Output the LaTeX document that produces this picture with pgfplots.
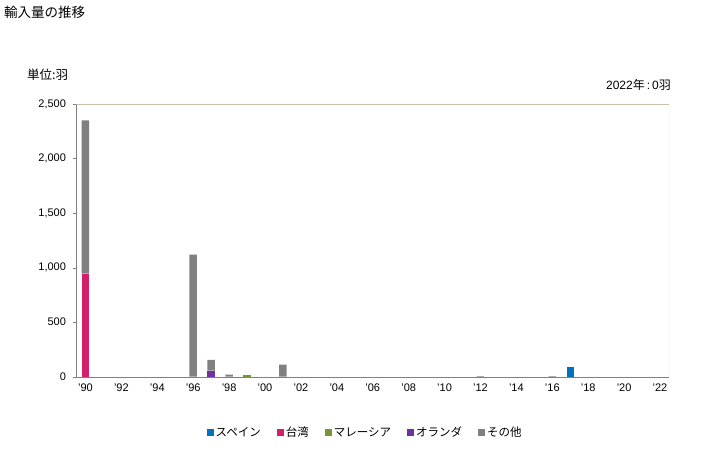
\documentclass[border=0pt]{standalone}
\usepackage{fontspec}
\setmainfont{Liberation Sans}
\newfontfamily\jp{Noto Sans CJK JP}
\usepackage{pgfplots}
\usepackage{pgfplotstable}
\pgfplotsset{compat=1.18}
\definecolor{cSpain}{HTML}{0070C0}
\definecolor{cTaiwan}{HTML}{D4206A}
\definecolor{cMalay}{HTML}{77933C}
\definecolor{cNeth}{HTML}{7030A0}
\definecolor{cOther}{HTML}{808080}
\definecolor{cFrame}{HTML}{C8C2AA}
\pgfplotstableread{
year spain taiwan malay neth other
1990 0 945 0 0 1405
1991 0 0 0 0 0
1992 0 0 0 0 0
1993 0 0 0 0 0
1994 0 0 0 0 0
1995 0 0 0 0 0
1996 0 0 0 0 1120
1997 0 0 0 55 100
1998 0 0 0 0 20
1999 0 0 15 0 0
2000 0 0 0 0 0
2001 0 0 0 0 110
2002 0 0 0 0 0
2003 0 0 0 0 0
2004 0 0 0 0 0
2005 0 0 0 0 0
2006 0 0 0 0 0
2007 0 0 0 0 0
2008 0 0 0 0 0
2009 0 0 0 0 0
2010 0 0 0 0 0
2011 0 0 0 0 0
2012 0 0 0 0 5
2013 0 0 0 0 0
2014 0 0 0 0 0
2015 0 0 0 0 0
2016 0 0 0 0 5
2017 90 0 0 0 0
2018 0 0 0 0 0
2019 0 0 0 0 0
2020 0 0 0 0 0
2021 0 0 0 0 0
2022 0 0 0 0 0
}\datatable
\begin{document}
\begin{tikzpicture}[x=1pt,y=1pt]
\path[use as bounding box] (0,0) rectangle (728,450);
\node[anchor=west,inner sep=0] at (4,438) {\jp\fontsize{13.5}{15}\selectfont 輸入量の推移};
\node[anchor=west,inner sep=0] at (27,375) {\jp\fontsize{12.5}{14}\selectfont 単位:羽};
\node[anchor=east,inner sep=0] at (671,365) {\fontsize{12}{14}\selectfont 2022{\jp 年}\,:\,0{\jp 羽}};
\begin{axis}[
  at={(76.5pt,73.3pt)}, anchor=south west,
  scale only axis, width=592.5pt, height=272.7pt,
  ybar stacked, bar width=7.5pt,
  xmin=1989.5, xmax=2022.5, ymin=0, ymax=2500,
  axis lines=left, axis line style={-, draw=cOther},
  xtick={1990,1992,...,2022},
  xticklabels={'90,'92,'94,'96,'98,'00,'02,'04,'06,'08,'10,'12,'14,'16,'18,'20,'22},
  ytick={0,500,...,2500},
  /pgf/number format/assume math mode=true,
  /pgf/number format/1000 sep={,},
  scaled y ticks=false,
  tick label style={font=\fontsize{11}{12}\selectfont},
  major x tick style={draw=none},
  major y tick style={draw=cOther},
  tick align=outside, major tick length=4pt,
  xticklabel style={yshift=0pt},
  yticklabel style={xshift=-3pt},
  legend columns=5,
  legend style={draw=none, fill=none, at={(0.487,-0.205)}, anchor=center,
    font=\jp\fontsize{11.5}{13}\selectfont,
    /tikz/every even column/.append style={column sep=14pt}},
  legend image code/.code={\fill[#1] (0pt,-3.5pt) rectangle (7pt,3.5pt);},
]
\addplot[fill=cSpain, draw=none] table[x=year,y=spain] {\datatable};
\addplot[fill=cTaiwan, draw=none] table[x=year,y=taiwan] {\datatable};
\addplot[fill=cMalay, draw=none] table[x=year,y=malay] {\datatable};
\addplot[fill=cNeth, draw=none] table[x=year,y=neth] {\datatable};
\addplot[fill=cOther, draw=none] table[x=year,y=other] {\datatable};
\legend{スペイン,台湾,マレーシア,オランダ,その他}
\draw[cFrame] (rel axis cs:0,1) -- (rel axis cs:1,1) -- (rel axis cs:1,0);
\end{axis}
\end{tikzpicture}
\end{document}
